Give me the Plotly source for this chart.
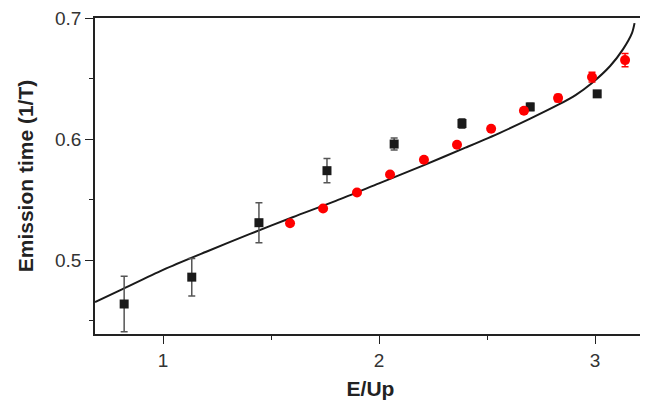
import plotly.graph_objects as go

# Black squares (with error bars)
sq_x = [0.82, 1.133, 1.444, 1.759, 2.07, 2.384, 2.70, 3.01]
sq_y = [0.4638, 0.486, 0.531, 0.574, 0.596, 0.613, 0.6267, 0.6375]
sq_err = [0.023, 0.0155, 0.0165, 0.010, 0.005, 0.004, 0.003, 0.0]

# Red circles
rd_x = [1.588, 1.741, 1.898, 2.051, 2.208, 2.361, 2.519, 2.671, 2.829, 2.986, 3.139]
rd_y = [0.5305, 0.5428, 0.556, 0.5708, 0.5831, 0.5955, 0.6086, 0.6235, 0.634, 0.6514, 0.6654]
rd_err = [0, 0, 0, 0, 0, 0, 0, 0.002, 0.003, 0.004, 0.0055]

# Theory curve
cv_x = [0.685, 0.8, 1.0, 1.2, 1.4, 1.6, 1.8, 2.0, 2.2, 2.4, 2.56, 2.7, 2.83,
        2.91, 2.986, 3.07, 3.13, 3.171, 3.183]
cv_y = [0.4654, 0.475, 0.492, 0.507, 0.5215, 0.5355, 0.549, 0.5635, 0.578, 0.593,
        0.6053, 0.617, 0.6285, 0.6365, 0.6465, 0.6605, 0.6745, 0.6877, 0.696]

x_ticks = [1, 2, 3]
y_ticks = [0.5, 0.6, 0.7]

FONT = "Liberation Sans, Arial, sans-serif"

fig = go.Figure()
fig.add_trace(go.Scatter(x=cv_x, y=cv_y, mode="lines",
                         line=dict(color="#1a1a1a", width=2, shape="spline", smoothing=0.8),
                         showlegend=False, hoverinfo="skip"))
fig.add_trace(go.Scatter(x=sq_x, y=sq_y, mode="markers",
                         marker=dict(symbol="square", size=9, color="#1a1a1a"),
                         error_y=dict(type="data", array=sq_err, visible=True,
                                      color="#555555", thickness=1.5, width=3.5),
                         showlegend=False))
fig.add_trace(go.Scatter(x=rd_x, y=rd_y, mode="markers",
                         marker=dict(symbol="circle", size=10, color="#ff0000"),
                         error_y=dict(type="data", array=rd_err, visible=True,
                                      color="#ff0000", thickness=1.5, width=3.5),
                         showlegend=False))

axis_common = dict(showline=True, linecolor="#222222", linewidth=1.5, mirror=True,
                   ticks="outside", ticklen=8, tickwidth=1.2, tickcolor="#222222",
                   showgrid=False, zeroline=False, ticklabeloverflow="allow",
                   automargin=False,
                   tickfont=dict(family=FONT, size=19, color="#333333"))

fig.update_xaxes(range=[0.685, 3.236], tickvals=x_ticks, ticktext=[str(v) for v in x_ticks],
                 minor=dict(ticks="outside", ticklen=4, dtick=0.5, tick0=0.5, tickcolor="#222222"),
                 title=dict(text="<b>E/Up</b>", font=dict(family=FONT, size=21, color="#222222"),
                            standoff=14),
                 **axis_common)
fig.update_yaxes(range=[0.439, 0.7002], tickvals=y_ticks, ticktext=[f"{v:.1f}" for v in y_ticks],
                 minor=dict(ticks="outside", ticklen=4, dtick=0.05, tick0=0.45, tickcolor="#222222"),
                 title=dict(text="<b>Emission time (1/T)</b>", font=dict(family=FONT, size=21, color="#222222"),
                            standoff=16),
                 **axis_common)

# page body has an 8px margin, so the figure is sized/margined to compensate
fig.update_layout(width=640, height=392, margin=dict(l=87, r=2, t=10, b=66),
                  plot_bgcolor="white", paper_bgcolor="white")

fig.write_html("out.html")
